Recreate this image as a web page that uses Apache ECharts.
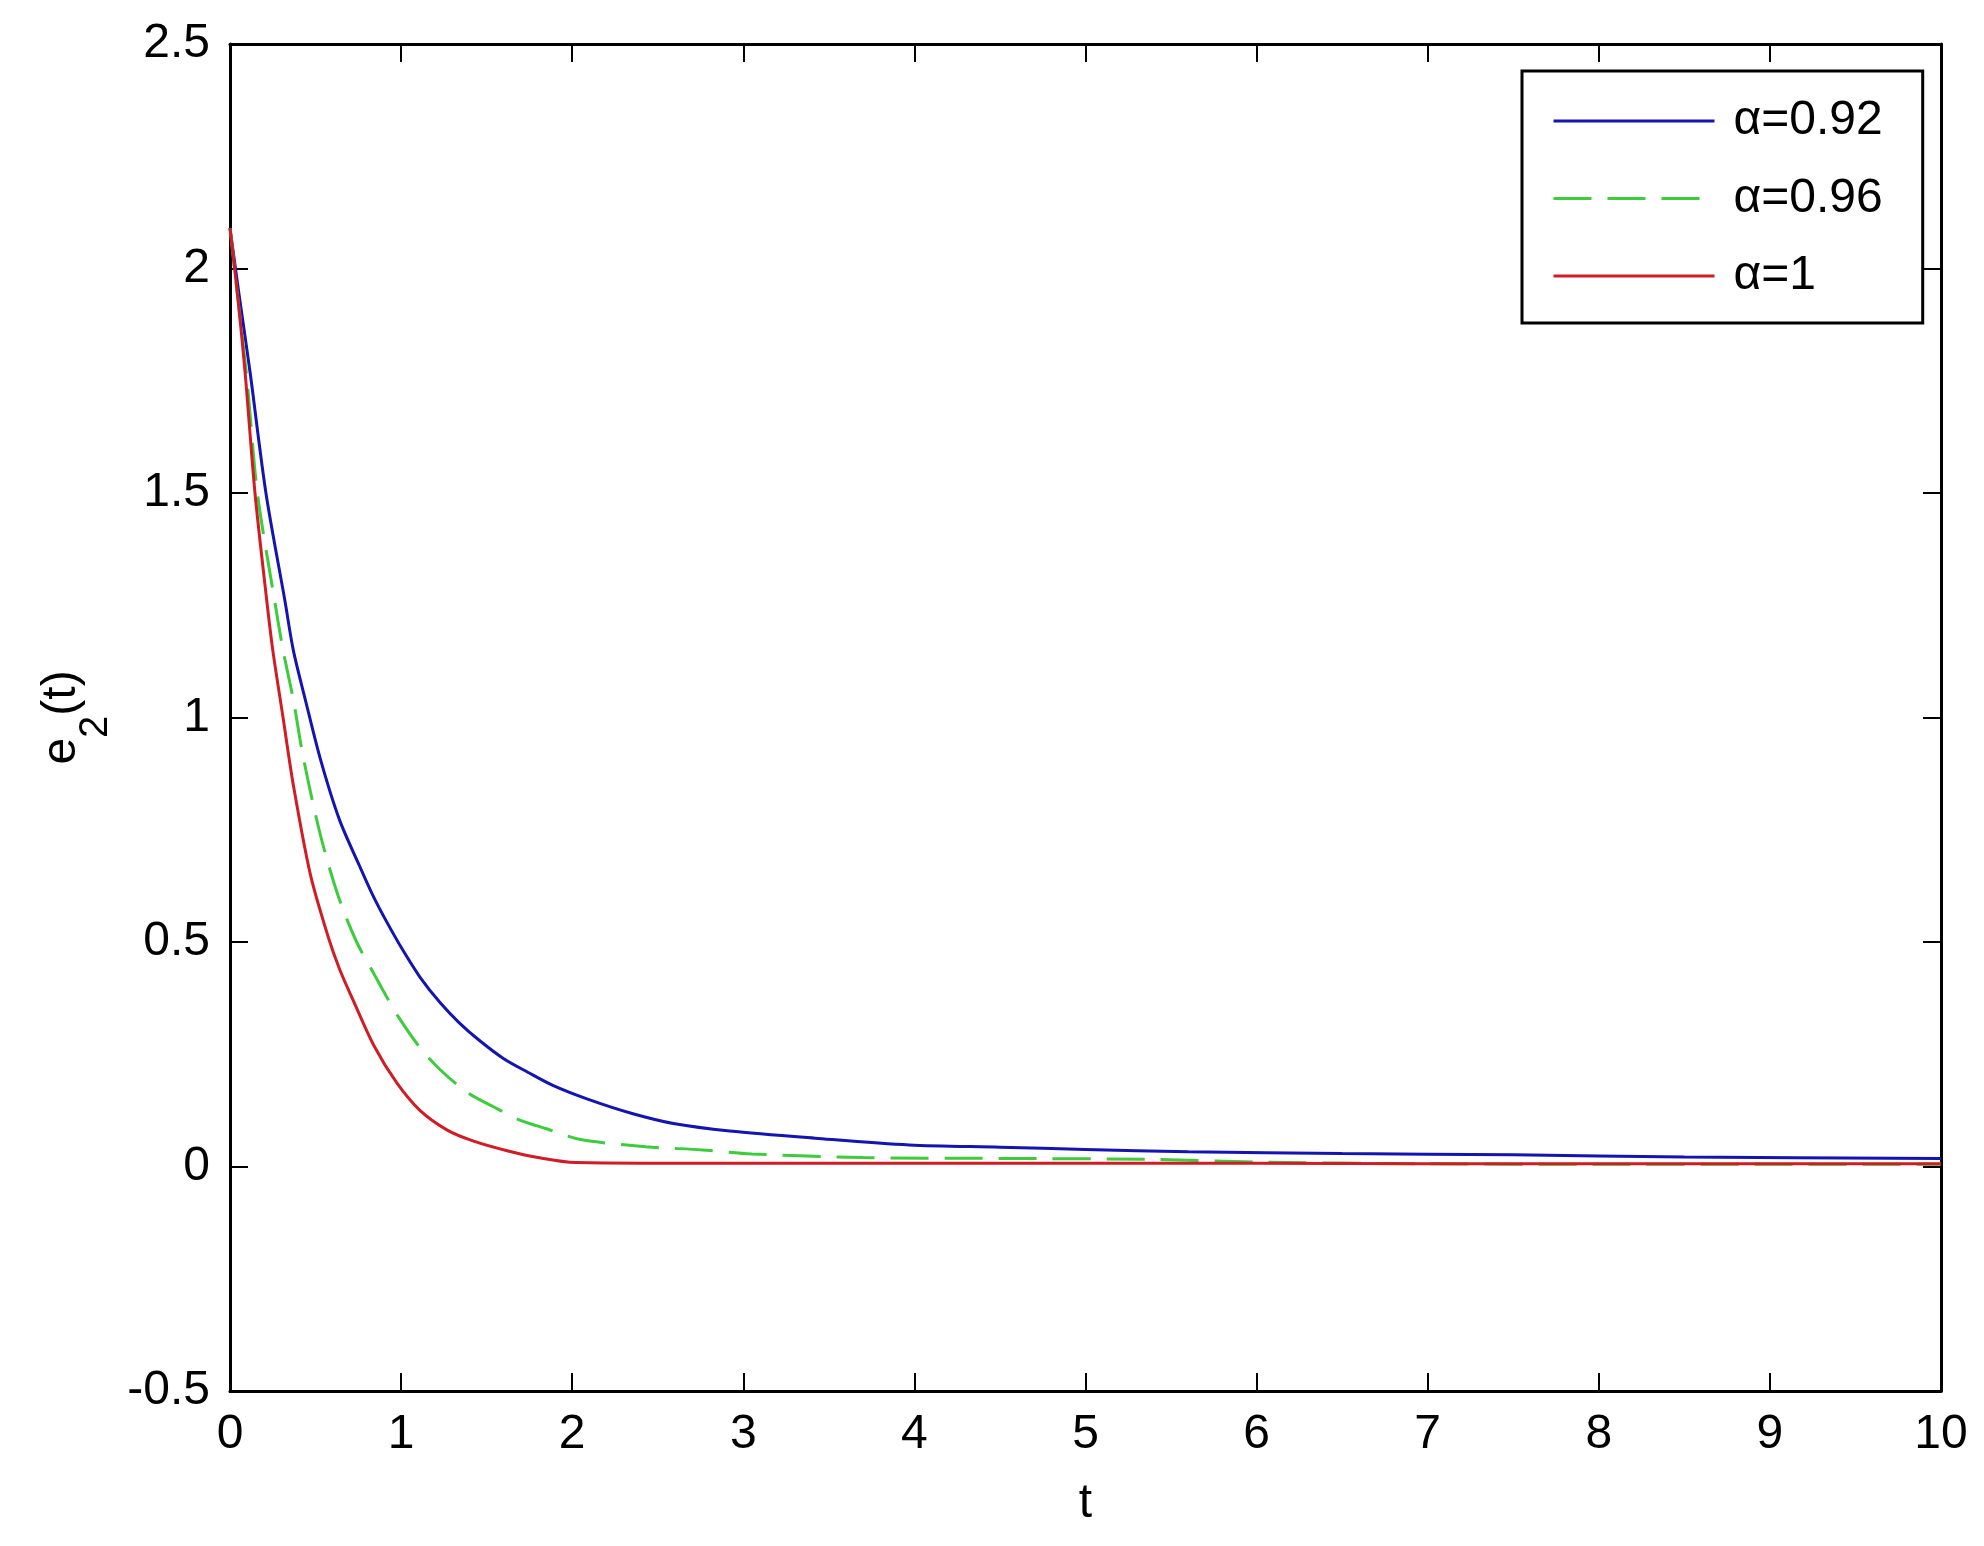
<!DOCTYPE html>
<html lang="en">

<head>
  <meta charset="UTF-8">
  <title>e2(t)</title>
  <script src="https://cdn.jsdelivr.net/npm/echarts@6.0.0/dist/echarts.min.js"></script>
</head>

<body style="margin: 0;padding: 0;background: #fff;">
  <div id="main" style="width: 1984px;height: 1546px;"></div>
  <script>
    // values
    var tBlue = [0, 0.05, 0.117, 0.21, 0.32, 0.37, 0.44, 0.53, 0.64, 0.76, 0.84, 0.92, 1.01, 1.11, 1.23, 1.34, 1.46, 1.6, 1.74, 1.89, 2.09, 2.35, 2.6, 2.92, 3.42, 3.97, 4.5, 5, 5.6, 6.5, 7.5, 8.5, 10];
    var vBlue = [2.09, 1.95, 1.77, 1.5, 1.262, 1.15, 1.04, 0.905, 0.772, 0.667, 0.6, 0.542, 0.482, 0.422, 0.364, 0.32, 0.28, 0.24, 0.21, 0.18, 0.15, 0.118, 0.095, 0.079, 0.063, 0.048, 0.043, 0.038, 0.033, 0.029, 0.026, 0.021, 0.018];

    var tGreen = [0, 0.05, 0.1, 0.16, 0.26, 0.31, 0.37, 0.42, 0.49, 0.555, 0.64, 0.74, 0.84, 0.92, 0.99, 1.11, 1.23, 1.39, 1.54, 1.69, 1.85, 2.05, 2.43, 2.76, 3.05, 3.7, 4.5, 5.4, 6, 7, 8, 9, 10];
    var vGreen = [2.09, 1.92, 1.75, 1.5, 1.262, 1.15, 1.04, 0.928, 0.8, 0.7, 0.594, 0.5, 0.43, 0.375, 0.33, 0.265, 0.215, 0.164, 0.133, 0.104, 0.084, 0.06, 0.044, 0.037, 0.028, 0.02, 0.018, 0.016, 0.01, 0.006, 0.005, 0.005, 0.005];

    var tRed = [0, 0.047, 0.088, 0.146, 0.215, 0.25, 0.31, 0.37, 0.47, 0.575, 0.64, 0.72, 0.84, 0.975, 1.11, 1.27, 1.42, 1.62, 1.8, 2.02, 3, 4, 5, 6, 7, 8, 9, 10];
    var vRed = [2.09, 1.93, 1.77, 1.5, 1.26, 1.15, 1, 0.85, 0.65, 0.51, 0.44, 0.37, 0.27, 0.186, 0.125, 0.081, 0.057, 0.035, 0.02, 0.009, 0.007, 0.007, 0.007, 0.007, 0.006, 0.006, 0.006, 0.006];

    var names = ['α=0.92', 'α=0.96', 'α=1'];

    function pairs(t, v) {
      return t.map(function (x, i) { return [x, v[i]]; });
    }

    var chart = echarts.init(document.getElementById('main'));
    var font = 'Liberation Sans, Arial, sans-serif';

    var tick = { show: true, inside: true, length: 18, lineStyle: { color: '#000', width: 2 } };
    var line = { show: true, onZero: false, lineStyle: { color: '#000', width: 3 } };

    var option = {
      animation: false,
      backgroundColor: '#fff',
      grid: { left: 230, top: 44, right: 43, bottom: 155, containLabel: false, outerBoundsMode: 'none' },
      legend: {
        orient: 'vertical',
        left: 1522,
        top: 71,
        data: names,
        backgroundColor: '#fff',
        borderColor: '#000',
        borderWidth: 3,
        borderRadius: 0,
        padding: [23, 40, 20, 30],
        itemGap: 23.5,
        itemWidth: 161,
        itemHeight: 14,
        itemStyle: { opacity: 0 },
        lineStyle: { width: 3 },
        textStyle: { fontFamily: font, fontSize: 48, lineHeight: 48, color: '#000', padding: [6, 0, 0, 14] }
      },
      xAxis: [
        {
          type: 'value', min: 0, max: 10, interval: 1,
          name: 't', nameLocation: 'middle', nameGap: 89,
          nameTextStyle: { fontFamily: font, fontSize: 48, color: '#000' },
          axisLine: line, axisTick: tick, splitLine: { show: false },
          axisLabel: { fontFamily: font, fontSize: 48, color: '#000', margin: 20 }
        },
        {
          type: 'value', min: 0, max: 10, interval: 1, position: 'top',
          axisLine: line, axisTick: tick, splitLine: { show: false },
          axisLabel: { show: false }
        }
      ],
      yAxis: [
        {
          type: 'value', min: -0.5, max: 2.5, interval: 0.5,
          name: '{a|e}{s|2}{a|(t)}', nameLocation: 'middle', nameGap: 136, nameRotate: 90,
          nameTextStyle: {
            rich: {
              a: { fontFamily: font, fontSize: 48, lineHeight: 56, color: '#000', verticalAlign: 'top' },
              s: { fontFamily: font, fontSize: 40, lineHeight: 40, color: '#000', verticalAlign: 'top', padding: [38, 0, 0, 0] }
            }
          },
          axisLine: line, axisTick: tick, splitLine: { show: false },
          axisLabel: { fontFamily: font, fontSize: 48, color: '#000', margin: 20 }
        },
        {
          type: 'value', min: -0.5, max: 2.5, interval: 0.5, position: 'right',
          axisLine: line, axisTick: tick, splitLine: { show: false },
          axisLabel: { show: false }
        }
      ],
      series: [
        {
          name: names[0], type: 'line', data: pairs(tBlue, vBlue),
          symbol: 'none', smooth: 0.3,
          lineStyle: { color: '#1414b0', width: 3 }, itemStyle: { color: '#1414b0' }
        },
        {
          name: names[1], type: 'line', data: pairs(tGreen, vGreen),
          symbol: 'none', smooth: 0.3,
          lineStyle: { color: '#3ccc3c', width: 3, type: [38, 16] }, itemStyle: { color: '#3ccc3c' }
        },
        {
          name: names[2], type: 'line', data: pairs(tRed, vRed),
          symbol: 'none', smooth: 0.3,
          lineStyle: { color: '#d01c24', width: 3 }, itemStyle: { color: '#d01c24' }
        }
      ]
    };

    chart.setOption(option);
  </script>
</body>

</html>
